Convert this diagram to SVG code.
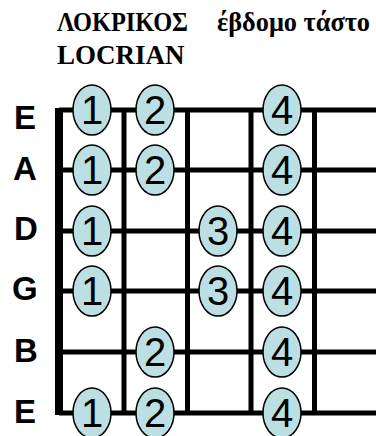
<svg xmlns="http://www.w3.org/2000/svg" width="376" height="436" viewBox="0 0 376 436">
<style>
.title{font-family:"Liberation Serif","DejaVu Serif",serif;font-weight:bold;font-size:27px;fill:#000}
.lbl{font-family:"Liberation Sans",Arial,sans-serif;font-weight:bold;font-size:33px;fill:#000}
.str{stroke:#000;stroke-width:5;fill:none}
.fret{stroke:#000;stroke-width:5;fill:none}
.dot ellipse{fill:#bcdfe3;stroke:#000;stroke-width:1.5}
.dot text{font-family:"Liberation Sans",Arial,sans-serif;font-size:40px;fill:#000;text-anchor:middle}
</style>
<rect width="376" height="436" fill="#fff"/>
<g id="title">
<text class="title" x="57" y="31" textLength="131" lengthAdjust="spacingAndGlyphs">ΛΟΚΡΙΚΟΣ</text>
<text class="title" x="217" y="31" textLength="153" lengthAdjust="spacingAndGlyphs">έβδομο τάστο</text>
<text class="title" x="57" y="64">LOCRIAN</text>
</g>
<g id="labels">
<text class="lbl" x="14" y="129">E</text>
<text class="lbl" x="13" y="180">A</text>
<text class="lbl" x="14" y="240">D</text>
<text class="lbl" x="12" y="300">G</text>
<text class="lbl" x="14" y="362">B</text>
<text class="lbl" x="14" y="423">E</text>
</g>
<g id="board">
<line class="str" x1="59" y1="110" x2="376" y2="110"/>
<line class="str" x1="59" y1="170" x2="376" y2="170"/>
<line class="str" x1="59" y1="231" x2="376" y2="231"/>
<line class="str" x1="59" y1="291" x2="376" y2="291"/>
<line class="str" x1="59" y1="352" x2="376" y2="352"/>
<line class="str" x1="59" y1="413" x2="376" y2="413"/>
<line class="fret" x1="124" y1="108" x2="124" y2="415"/>
<line class="fret" x1="187.5" y1="108" x2="187.5" y2="415"/>
<line class="fret" x1="251" y1="108" x2="251" y2="415"/>
<line class="fret" x1="314.5" y1="108" x2="314.5" y2="415"/>
<rect id="nut" x="55" y="108" width="8" height="307" fill="#000"/>
</g>
<g id="n-E1-1" class="dot"><ellipse cx="92" cy="110" rx="19" ry="25"/><text x="92" y="124">1</text></g>
<g id="n-E1-2" class="dot"><ellipse cx="155" cy="110" rx="19" ry="25"/><text x="155" y="124">2</text></g>
<g id="n-E1-4" class="dot"><ellipse cx="282" cy="110" rx="19" ry="25"/><text x="282" y="124">4</text></g>
<g id="n-A-1" class="dot"><ellipse cx="92" cy="170" rx="19" ry="25"/><text x="92" y="184">1</text></g>
<g id="n-A-2" class="dot"><ellipse cx="155" cy="170" rx="19" ry="25"/><text x="155" y="184">2</text></g>
<g id="n-A-4" class="dot"><ellipse cx="282" cy="170" rx="19" ry="25"/><text x="282" y="184">4</text></g>
<g id="n-D-1" class="dot"><ellipse cx="92" cy="231" rx="19" ry="25"/><text x="92" y="245">1</text></g>
<g id="n-D-3" class="dot"><ellipse cx="218" cy="231" rx="19" ry="25"/><text x="218" y="245">3</text></g>
<g id="n-D-4" class="dot"><ellipse cx="282" cy="231" rx="19" ry="25"/><text x="282" y="245">4</text></g>
<g id="n-G-1" class="dot"><ellipse cx="92" cy="291" rx="19" ry="25"/><text x="92" y="305">1</text></g>
<g id="n-G-3" class="dot"><ellipse cx="218" cy="291" rx="19" ry="25"/><text x="218" y="305">3</text></g>
<g id="n-G-4" class="dot"><ellipse cx="282" cy="291" rx="19" ry="25"/><text x="282" y="305">4</text></g>
<g id="n-B-2" class="dot"><ellipse cx="155" cy="352" rx="19" ry="25"/><text x="155" y="366">2</text></g>
<g id="n-B-4" class="dot"><ellipse cx="282" cy="352" rx="19" ry="25"/><text x="282" y="366">4</text></g>
<g id="n-E6-1" class="dot"><ellipse cx="92" cy="413" rx="19" ry="25"/><text x="92" y="427">1</text></g>
<g id="n-E6-2" class="dot"><ellipse cx="155" cy="413" rx="19" ry="25"/><text x="155" y="427">2</text></g>
<g id="n-E6-4" class="dot"><ellipse cx="282" cy="413" rx="19" ry="25"/><text x="282" y="427">4</text></g>
</svg>
